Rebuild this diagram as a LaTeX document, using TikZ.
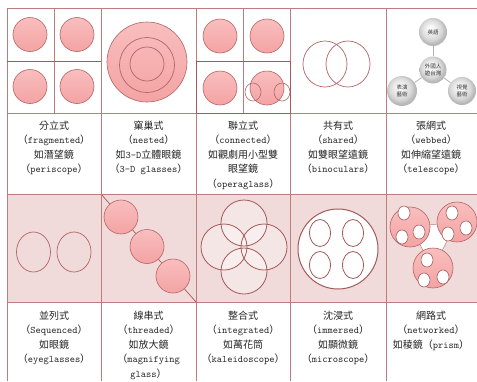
\documentclass[tikz,border=0pt]{standalone}
\usepackage{fontspec}
\setmainfont{Noto Sans CJK TC}
\definecolor{gridc}{RGB}{190,125,125}
\definecolor{darkc}{RGB}{165,90,90}
\definecolor{bgpink}{RGB}{240,218,218}
\definecolor{ctop}{RGB}{249,190,190}
\definecolor{cbot}{RGB}{244,163,163}
\definecolor{cline}{RGB}{180,100,100}
\pgfdeclareradialshading{sph}{\pgfpoint{-5bp}{7bp}}{color(0bp)=(white); color(6bp)=(white!96!black); color(18bp)=(black!15); color(25bp)=(black!28); color(50bp)=(black!28)}
\newcommand\pp[1]{（{\ttfamily #1}）}
\newcommand\celltext[4]{\foreach \t [count=\i] in {#4} \node[lab] (#1-\i) at (#2,{#3+14.5*(\i-1)}) {\t};}
\tikzset{
  gridline/.style={draw=gridc, line width=0.7pt},
  innerline/.style={draw=darkc, line width=0.9pt},
  pinkball/.style={draw=cline, line width=0.6pt, top color=ctop, bottom color=cbot},
  ring/.style={draw=cline, line width=0.7pt},
  sphere/.style={circle, shading=sph, inner sep=0pt, minimum size=#1,
    font=\fontsize{5.5}{6.5}\selectfont, align=center, text=black!80},
  lab/.style={anchor=base, inner sep=0pt, font=\fontsize{10}{12}\selectfont, text=black!85},
  link/.style={draw=black!30, line width=0.8pt},
}
\begin{document}
\begin{tikzpicture}[x=1pt,y=-1pt]
\useasboundingbox (0,0) rectangle (477,381);
\fill[white] (0,0) rectangle (477,381);
% row 2 pink background
\fill[bgpink] (7,194) rectangle (477,302);

% ---------- row 1 images ----------
% fragmented
\foreach \cx/\cy in {30/34.5, 77/34.5, 30/86.5, 77/86.5}
  \draw[pinkball] (\cx,\cy) circle (17pt);
% nested
\draw[pinkball] (147,62) circle (40pt);
\draw[ring] (147,65) circle (27.5pt);
\draw[ring] (147,64) circle (17pt);
% connected
\foreach \cx/\cy in {220/36, 267/36, 220/88, 267/88}
  \draw[pinkball] (\cx,\cy) circle (17pt);
\draw[ring, line width=0.6pt] (253,92) ellipse [x radius=8pt, y radius=9pt];
\draw[ring, line width=0.6pt] (282,92) ellipse [x radius=8pt, y radius=9pt];
% shared
\draw[ring] (325,64) ellipse [x radius=22pt, y radius=23pt];
\draw[ring] (348,64) ellipse [x radius=22pt, y radius=23pt];
% webbed
\node[sphere=28pt] (en) at (433,32) {英語};
\node[sphere=27pt] (ctr) at (433,70) {外國人\\遊台灣};
\node[sphere=30pt] (perf) at (402,91) {表演\\藝術};
\node[sphere=28pt] (vis) at (462,91) {視覺\\藝術};
\draw[link] (ctr) -- (en);
\draw[link] (ctr) -- (perf);
\draw[link] (ctr) -- (vis);

% ---------- row 2 images ----------
% sequenced
\draw[ring] (33.5,252) ellipse [x radius=17pt, y radius=20pt];
\draw[ring] (74,252) ellipse [x radius=17pt, y radius=20pt];
% threaded
\coordinate (thA) at (101,194);
\coordinate (thB) at (196,302);
\draw[draw=darkc, line width=0.7pt] (thA) -- (thB);
\foreach \cx/\cy in {121/217, 147/246.5, 173/276}
  \draw[pinkball] (\cx,\cy) circle (17pt);
% integrated
\foreach \cx/\cy in {244/223, 224/247, 264/247, 244/271}
  \fill[white, fill opacity=0.35] (\cx,\cy) circle (23pt);
\foreach \cx/\cy in {244/223, 224/247, 264/247, 244/271}
  \draw[draw=darkc, line width=0.8pt] (\cx,\cy) circle (23pt);
% immersed
\draw[draw=darkc, line width=1pt, fill=white] (338,249) circle (40pt);
\foreach \cx/\cy in {320/233, 353/233, 320/265, 353/265}
  \draw[draw=darkc, line width=0.8pt] (\cx,\cy) ellipse [x radius=10.5pt, y radius=13.5pt];
% networked
\fill[white] (410,227) -- (457,222) -- (433,268) -- cycle;
\draw[gridc, line width=0.5pt] (410,227) -- (457,222) -- (433,268) -- cycle;
\foreach \cx/\cy in {410/227, 457/222, 433/268}
  \draw[pinkball] (\cx,\cy) circle (20pt);
\foreach \cx/\cy in {404/213, 402/237, 419/232, 452/213, 448/234, 466/228, 427/260, 424/280, 443/277}
  \draw[draw=darkc, line width=0.6pt, fill=white] (\cx,\cy) ellipse [x radius=6pt, y radius=7pt];

% ---------- grid ----------
\foreach \yy in {8,113,194,302}
  \draw[gridline] (7,\yy) -- (477,\yy);
\foreach \xx in {7,101,196,290,386}
  \draw[gridline] (\xx,8) -- (\xx,381);
\draw[gridline] (54,8) -- (54,113);
\draw[gridline] (243,8) -- (243,113);
\draw[innerline] (7,61) -- (101,61);
\draw[innerline] (196,61) rectangle (290,113);

% ---------- texts ----------
\celltext{fr}{54}{129}{分立式, \pp{fragmented}, 如潛望鏡, \pp{periscope}}
\celltext{ne}{148.5}{129}{窠巢式, \pp{nested}, 如{\ttfamily 3-D}立體眼鏡, \pp{3-D glasses}}
\celltext{co}{243}{129}{聯立式, \pp{connected}, 如觀劇用小型雙, 眼望鏡, \pp{operaglass}}
\celltext{sh}{338}{129}{共有式, \pp{shared}, 如雙眼望遠鏡, \pp{binoculars}}
\celltext{we}{431}{129}{張網式, \pp{webbed}, 如伸縮望遠鏡, \pp{telescope}}
\celltext{se}{54}{319}{並列式, \pp{Sequenced}, 如眼鏡, \pp{eyeglasses}}
\celltext{th}{148.5}{319}{線串式, \pp{threaded}, 如放大鏡, （{\ttfamily magnifying}, {\ttfamily glass}）}
\celltext{in}{243}{319}{整合式, \pp{integrated}, 如萬花筒, \pp{kaleidoscope}}
\celltext{im}{338}{319}{沈浸式, \pp{immersed}, 如顯微鏡, \pp{microscope}}
\celltext{nw}{431}{319}{網路式, \pp{networked}, 如稜鏡\pp{prism}}
\end{tikzpicture}
\end{document}
